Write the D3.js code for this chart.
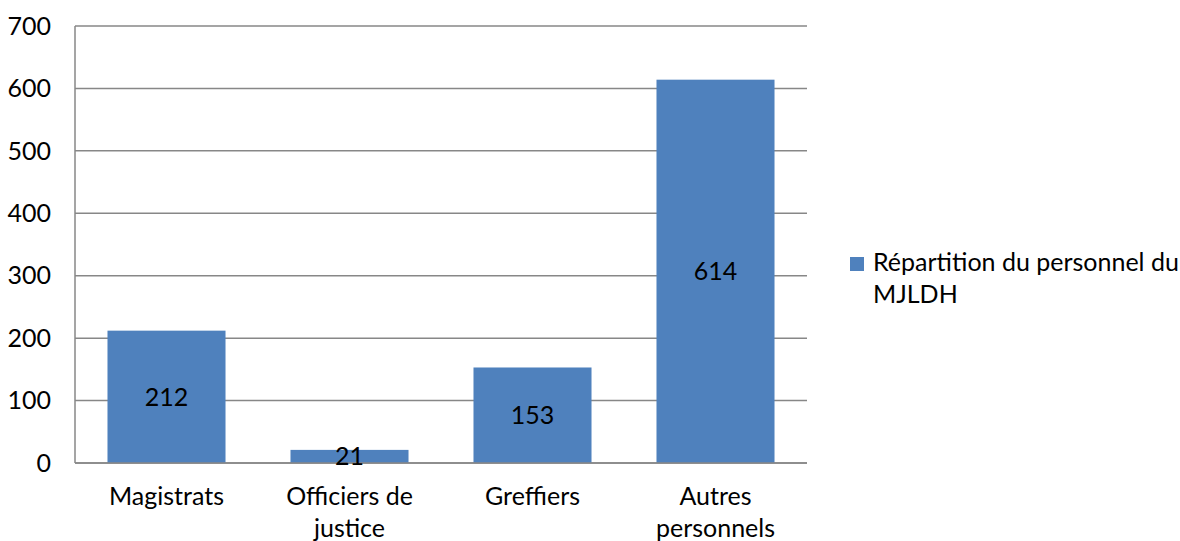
<!DOCTYPE html>
<html>
<head>
<meta charset="utf-8">
<script src="https://cdn.jsdelivr.net/npm/d3@7"></script>
<style>
  body { margin: 0; background: #fff; }
  text { font-family: Lato, "Open Sans", sans-serif; fill: #000; }
</style>
</head>
<body>
<svg id="chart" width="1180" height="541"></svg>
<script>
// data
var categories = [["Magistrats"], ["Officiers de", "justice"], ["Greffiers"], ["Autres", "personnels"]];
var values = [212, 21, 153, 614];
var yTicks = [0, 100, 200, 300, 400, 500, 600, 700];
var seriesName = ["Répartition du personnel du", "MJLDH"];

var svg = d3.select("#chart"),
    plotLeft = 75, plotRight = 807, plotTop = 26, plotBottom = 463,
    fontSize = 25;

var x = d3.scaleBand()
    .domain(d3.range(categories.length))
    .range([plotLeft, plotRight])
    .paddingInner(0.355)
    .paddingOuter(0.1775);

var y = d3.scaleLinear().domain([0, 700]).range([plotBottom, plotTop]);

// gridlines
svg.append("g").selectAll("line")
    .data(yTicks)
    .enter().append("line")
      .attr("x1", plotLeft).attr("x2", plotRight)
      .attr("y1", function(d) { return y(d); })
      .attr("y2", function(d) { return y(d); })
      .attr("stroke", "#878787")
      .attr("stroke-width", 1.5);

// y axis line
svg.append("line")
    .attr("x1", plotLeft).attr("x2", plotLeft)
    .attr("y1", plotTop).attr("y2", plotBottom)
    .attr("stroke", "#878787").attr("stroke-width", 1.5);

// y labels
svg.append("g").selectAll("text")
    .data(yTicks)
    .enter().append("text")
      .attr("x", 51)
      .attr("y", function(d) { return y(d); })
      .attr("dy", "0.35em")
      .attr("text-anchor", "end")
      .style("font-size", fontSize + "px")
      .text(function(d) { return d; });

// bars
svg.append("g").selectAll("rect")
    .data(values)
    .enter().append("rect")
      .attr("x", function(d, i) { return x(i); })
      .attr("y", function(d) { return y(d); })
      .attr("width", x.bandwidth())
      .attr("height", function(d) { return y(0) - y(d); })
      .attr("fill", "#4F81BD");

// zero line on top of bars
svg.append("line")
    .attr("x1", plotLeft).attr("x2", plotRight)
    .attr("y1", y(0)).attr("y2", y(0))
    .attr("stroke", "#878787").attr("stroke-width", 1.5);

// data labels
svg.append("g").selectAll("text")
    .data(values)
    .enter().append("text")
      .attr("x", function(d, i) { return x(i) + x.bandwidth() / 2; })
      .attr("y", function(d) { return y(d / 2); })
      .attr("dy", "0.35em")
      .attr("text-anchor", "middle")
      .style("font-size", fontSize + "px")
      .text(function(d) { return d; });

// category labels
var cat = svg.append("g").selectAll("text")
    .data(categories)
    .enter().append("text")
      .attr("x", function(d, i) { return x(i) + x.bandwidth() / 2; })
      .attr("y", 505)
      .attr("text-anchor", "middle")
      .style("font-size", fontSize + "px");
cat.selectAll("tspan")
    .data(function(d) { return d; })
    .enter().append("tspan")
      .attr("x", function() { return d3.select(this.parentNode).attr("x"); })
      .attr("dy", function(d, i) { return i ? 32 : 0; })
      .text(function(d) { return d; });

// legend
var legend = svg.append("g");
legend.append("rect")
    .attr("x", 850).attr("y", 257)
    .attr("width", 14).attr("height", 14)
    .attr("fill", "#4F81BD");
legend.append("text")
    .attr("x", 873).attr("y", 271)
    .style("font-size", fontSize + "px")
  .selectAll("tspan")
    .data(seriesName)
    .enter().append("tspan")
      .attr("x", 873)
      .attr("dy", function(d, i) { return i ? 32 : 0; })
      .text(function(d) { return d; });
</script>
</body>
</html>
